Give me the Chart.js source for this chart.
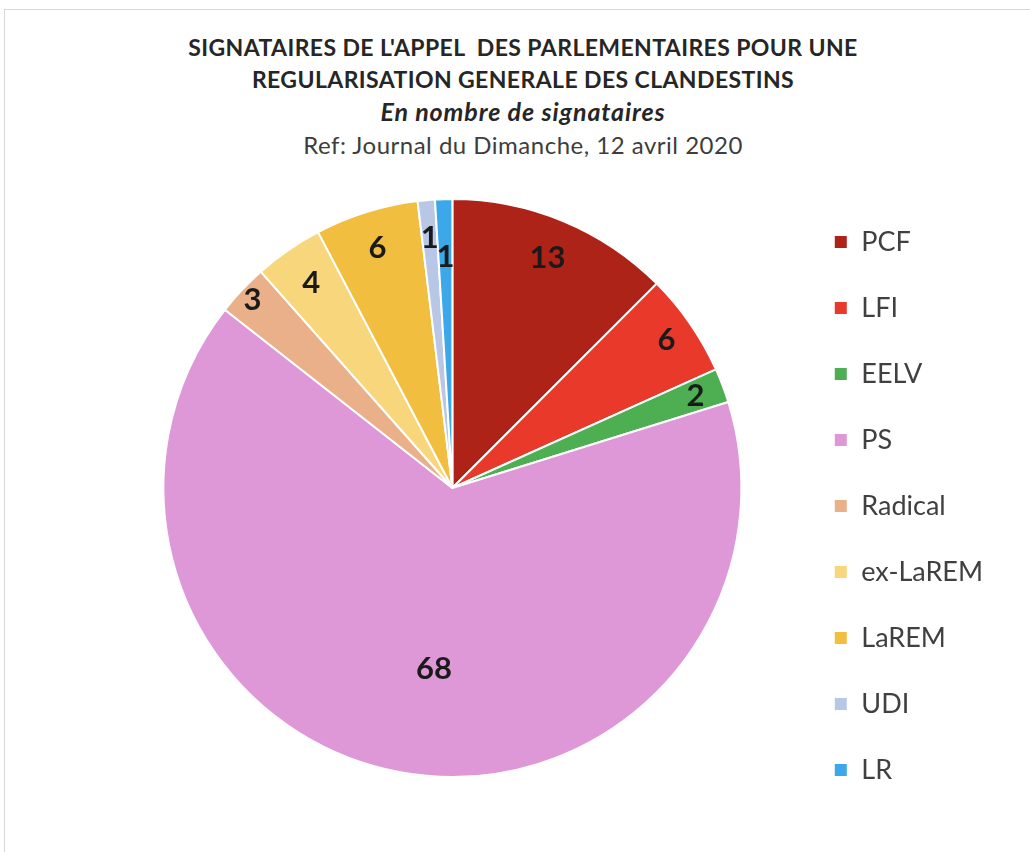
<!DOCTYPE html>
<html>
<head>
<meta charset="utf-8">
<script src="https://cdn.jsdelivr.net/npm/chart.js@4.4.0/dist/chart.umd.min.js"></script>
<style>
  body { margin: 0; background: #fff; width: 1030px; height: 852px; overflow: hidden; position: relative; font-family: Lato, sans-serif; }
  .frame { position: absolute; left: 4px; top: 9px; width: 1100px; height: 900px; border: 1px solid #d6d6d6; }
  .titles { position: absolute; left: 0; top: 31px; width: 1046px; text-align: center; color: #262626; }
  .titles div { line-height: 32px; white-space: nowrap; }
  .t1 { font-weight: bold; font-size: 23px; letter-spacing: 0.4px; }
  .t2 { font-weight: bold; font-style: italic; font-size: 25px; letter-spacing: 0.9px; }
  .t3 { font-size: 24px; letter-spacing: 0.5px; color: #3d3d3d; line-height: 36px !important; }
  #wrap { position: absolute; left: 0; top: 0; width: 1030px; height: 852px; }
</style>
</head>
<body>
<div class="frame"></div>
<div class="titles">
  <div class="t1">SIGNATAIRES DE L'APPEL&nbsp; DES PARLEMENTAIRES POUR UNE</div>
  <div class="t1">REGULARISATION GENERALE DES CLANDESTINS</div>
  <div class="t2">En nombre de signataires</div>
  <div class="t3">Ref: Journal du Dimanche, 12 avril 2020</div>
</div>
<div id="wrap"><canvas id="myChart"></canvas></div>
<script>
const parties = ['PCF', 'LFI', 'EELV', 'PS', 'Radical', 'ex-LaREM', 'LaREM', 'UDI', 'LR'];
const signataires = [13, 6, 2, 68, 3, 4, 6, 1, 1];
const couleurs = ['#AE2318', '#E8392B', '#4DAE52', '#DE98D8', '#E9B08A', '#F8D77C', '#F2BE3F', '#B9C7E6', '#3BA9E9'];

// writes the value on each slice
const valueLabels = {
  id: 'valueLabels',
  afterDatasetsDraw(chart, args, opts) {
    const ctx = chart.ctx;
    const meta = chart.getDatasetMeta(0);
    ctx.save();
    ctx.font = 'bold 31px Lato, sans-serif';
    ctx.fillStyle = '#1a1a1a';
    ctx.textAlign = 'center';
    ctx.textBaseline = 'middle';
    meta.data.forEach((arc, i) => {
      const p = arc.getProps(['x', 'y', 'startAngle', 'endAngle', 'outerRadius'], true);
      const mid = (p.startAngle + p.endAngle) / 2 + (opts.shift[i] || 0);
      const r = p.outerRadius * opts.radius[i];
      ctx.fillText(String(signataires[i]), p.x + Math.cos(mid) * r, p.y + Math.sin(mid) * r);
    });
    ctx.restore();
  }
};

function makeChart() {
  const ctx = document.getElementById('myChart');
  return new Chart(ctx, {
    type: 'pie',
    data: {
      labels: parties,
      datasets: [{
        data: signataires,
        backgroundColor: couleurs,
        borderColor: '#ffffff',
        borderWidth: 2
      }]
    },
    options: {
      responsive: false,
      animation: false,
      radius: 289,
      layout: { padding: { top: 124, left: 110, right: 37, bottom: 0 } },
      plugins: {
        tooltip: { enabled: false },
        valueLabels: {
          // where each label sits, as a share of the radius (Excel "best fit" look)
          radius: [0.86, 0.9, 0.9, 0.63, 0.95, 0.86, 0.87, 0.87, 0.8],
          shift: [0, 0, 0, -0.08, 0, 0, 0, 0, 0]
        },
        legend: {
          position: 'right',
          title: { display: true, text: ' ', padding: 12, font: { size: 10 } },
          labels: {
            boxWidth: 14,
            boxHeight: 14,
            padding: 39,
            color: '#404040',
            font: { family: 'Lato, sans-serif', size: 27 }
          }
        }
      }
    },
    plugins: [valueLabels]
  });
}

document.getElementById('myChart').width = 1030;
document.getElementById('myChart').height = 852;
makeChart();
</script>
</body>
</html>
